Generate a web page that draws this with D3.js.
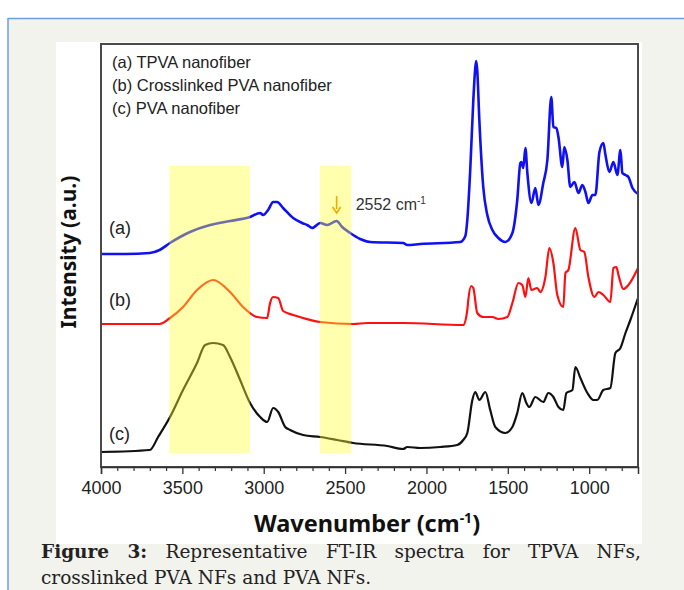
<!DOCTYPE html>
<html>
<head>
<meta charset="utf-8">
<script src="https://cdn.jsdelivr.net/npm/d3@7"></script>
<style>
  body { margin: 0; background: #fff; }
</style>
</head>
<body>
<script>
// wavenumber (cm-1) / intensity (a.u., offset curves)
var tpvaWn  = [4000,3850,3700,3640,3576,3453,3330,3207,3084,3022,3004,2973,2942,2918,2881,2819,2764,2733,2702,2653,2610,2552,2518,2469,2407,2346,2143,2118,2038,1792,1761,1749,1731,1712,1700,1694,1688,1675,1651,1626,1595,1558,1515,1472,1442,1423,1417,1405,1392,1380,1355,1331,1312,1282,1257,1233,1220,1202,1189,1165,1153,1134,1116,1091,1066,1042,1023,1005,980,962,937,913,900,876,851,827,808,796,777,759,734,700];
var tpvaInt = [21.3,21.3,21.4,21.7,22.4,23.5,24.2,24.6,25.0,25.4,25.2,25.7,26.5,26.5,25.9,24.9,24.4,24.2,23.9,24.4,24.2,24.6,24.0,23.4,22.8,22.5,22.4,22.2,22.3,22.5,23.1,24.7,29.7,36.7,39.9,40.6,39.7,34.7,28.0,25.2,23.7,22.9,22.5,23.4,26.7,30.4,30.5,29.9,31.9,29.4,26.4,27.9,26.2,28.4,30.7,37.0,34.0,33.9,33.0,30.0,32.0,30.7,28.0,28.5,27.4,28.2,27.5,26.4,27.2,27.2,31.5,32.4,31.2,29.5,30.5,29.2,31.7,29.4,29.2,29.0,27.9,27.3];

var xpvaWn  = [4000,3640,3576,3496,3410,3311,3207,3127,3041,2979,2961,2942,2911,2881,2819,2758,2653,2450,2364,2143,1774,1749,1743,1725,1712,1688,1651,1595,1558,1503,1472,1435,1411,1392,1374,1355,1319,1300,1269,1245,1220,1196,1159,1146,1128,1085,1054,1030,1005,968,943,913,870,851,833,820,790,759,700];
var xpvaInt = [14.3,14.3,14.9,16.0,17.7,18.7,17.5,16.0,15.0,14.9,16.4,17.0,16.9,15.6,15.2,14.9,14.5,14.3,14.4,14.4,14.2,15.7,16.7,18.1,17.9,15.4,15.0,15.0,14.8,15.0,16.4,18.4,18.2,17.0,18.9,17.7,17.9,17.5,19.0,21.9,20.4,17.2,16.0,19.4,19.7,23.9,21.7,21.5,19.0,17.0,17.5,17.2,16.5,19.9,20.0,19.2,17.8,18.2,19.9];

var pvaWn  = [4000,3700,3649,3576,3496,3410,3360,3311,3250,3207,3145,3084,3022,2979,2942,2911,2868,2838,2758,2653,2549,2450,2241,2143,2118,2038,1915,1811,1774,1749,1718,1700,1675,1638,1608,1577,1515,1472,1442,1411,1386,1368,1331,1282,1251,1220,1189,1159,1140,1103,1085,1054,1011,974,950,913,870,839,808,777,747,700];
var pvaInt = [1.5,1.7,3.0,5.0,7.7,10.4,12.2,12.4,12.2,11.0,8.7,6.4,5.0,4.5,5.9,5.5,4.0,3.7,3.2,3.0,2.7,2.4,2.1,1.8,2.0,1.9,2.0,2.2,2.7,3.4,6.7,7.5,6.7,7.5,5.7,4.0,3.4,4.0,5.4,7.4,6.4,6.0,7.0,6.5,7.4,7.0,6.0,5.7,7.4,7.7,10.0,8.9,7.4,6.7,6.7,7.7,7.9,11.4,11.9,13.4,14.7,16.9];

var xTicks = [4000, 3500, 3000, 2500, 2000, 1500, 1000];
var legendLines = ["(a) TPVA nanofiber", "(b) Crosslinked PVA nanofiber", "(c) PVA nanofiber"];
var curveLabels = ["(a)", "(b)", "(c)"];
var labelInt = [23.3, 16.1, 2.7];
var bands = [[3580, 3085], [2655, 2462]];
var peakWn = 2552;

var svg = d3.select("body").append("svg")
    .attr("width", 684).attr("height", 590);

// page background and blue border
svg.append("rect").attr("x", 8).attr("y", 18).attr("width", 676).attr("height", 572).attr("fill", "#f3f3ee");
svg.append("line").attr("x1", 8).attr("x2", 684).attr("y1", 18.5).attr("y2", 18.5).attr("stroke", "#6a9fe6").attr("stroke-width", 1.5);
svg.append("line").attr("x1", 8).attr("x2", 8).attr("y1", 18).attr("y2", 590).attr("stroke", "#6a9fe6").attr("stroke-width", 1.5);
svg.append("rect").attr("x", 56).attr("y", 42).attr("width", 586).attr("height", 502).attr("fill", "#fff");

var x = d3.scaleLinear().domain([4000, 700]).range([101, 638]);
var y = d3.scaleLinear().domain([0, 42.3]).range([467, 44]);

var line = d3.line()
    .x(function(d) { return x(d[0]); })
    .y(function(d) { return y(d[1]); })
    .curve(d3.curveMonotoneX);

var series = [
    {wn: tpvaWn, v: tpvaInt, color: "#1010f5", w: 2.6},
    {wn: xpvaWn, v: xpvaInt, color: "#ff1010", w: 2.2},
    {wn: pvaWn,  v: pvaInt,  color: "#111",    w: 2.2}
];
series.forEach(function(s) {
    svg.append("path")
        .datum(d3.zip(s.wn, s.v))
        .attr("fill", "none")
        .attr("stroke", s.color)
        .attr("stroke-width", s.w)
        .attr("stroke-linejoin", "round")
        .attr("d", line);
});

// highlighted regions (drawn over the lines, translucent)
bands.forEach(function(b) {
    svg.append("rect")
        .attr("x", x(b[0])).attr("width", x(b[1]) - x(b[0]))
        .attr("y", y(30.1)).attr("height", y(1.4) - y(30.1))
        .attr("fill", "rgb(255,255,50)").attr("opacity", 0.4);
});

// arrow at 2552
var ax = x(peakWn);
svg.append("line").attr("x1", ax).attr("x2", ax).attr("y1", y(27.1)).attr("y2", y(25.8))
    .attr("stroke", "#f4a800").attr("stroke-width", 1.6);
svg.append("path")
    .attr("d", "M" + (ax - 4) + "," + y(26.0) + "L" + ax + "," + y(25.4) + "L" + (ax + 4) + "," + y(26.0))
    .attr("fill", "none").attr("stroke", "#f4a800").attr("stroke-width", 1.6);
var ann = svg.append("text").attr("x", ax + 19).attr("y", y(25.7))
    .attr("font-family", "Liberation Sans, Arial, sans-serif").attr("font-size", 16).attr("fill", "#333");
ann.append("tspan").text(peakWn + " cm");
ann.append("tspan").attr("font-size", 10).attr("dy", -6).text("-1");

// frame
svg.append("rect").attr("x", 101).attr("y", 44).attr("width", 537).attr("height", 423)
    .attr("fill", "none").attr("stroke", "#4a4a4a").attr("stroke-width", 2);

// axis
var xAxis = svg.append("g").attr("transform", "translate(0,467)")
    .call(d3.axisBottom(x).tickValues(xTicks).tickSize(7).tickFormat(d3.format("d")));
xAxis.select(".domain").attr("stroke", "#333").attr("stroke-width", 1.5);
xAxis.selectAll(".tick line").attr("stroke", "#333").attr("stroke-width", 1.3);
xAxis.selectAll("text").attr("font-family", "Liberation Sans, Arial, sans-serif")
    .attr("font-size", 18).attr("fill", "#222").attr("dy", "0.95em");
var minor = d3.range(3900, 700, -100).filter(function(v) { return v % 500 !== 0; });
svg.append("g").attr("transform", "translate(0,467)")
    .call(d3.axisBottom(x).tickValues(minor).tickSize(4).tickFormat(""))
    .call(function(g) { g.select(".domain").remove(); })
    .selectAll("line").attr("stroke", "#333").attr("stroke-width", 1.2);

// axis titles
var xt = svg.append("text").attr("x", 367).attr("y", 532).attr("text-anchor", "middle")
    .attr("font-family", "Noto Sans, sans-serif").attr("font-weight", "bold").attr("font-size", 23.5).attr("fill", "#111");
xt.append("tspan").text("Wavenumber (cm");
xt.append("tspan").attr("font-size", 14).attr("dy", -9).text("-1");
xt.append("tspan").attr("dy", 9).text(")");

svg.append("text").attr("transform", "translate(76,252) rotate(-90)").attr("text-anchor", "middle")
    .attr("font-family", "Noto Sans, sans-serif").attr("font-weight", "bold").attr("font-size", 21).attr("fill", "#111")
    .text("Intensity (a.u.)");

// legend text
svg.selectAll(".leg").data(legendLines).enter().append("text")
    .attr("x", 112).attr("y", function(d, i) { return 68 + i * 23; })
    .attr("font-family", "Liberation Sans, Arial, sans-serif").attr("font-size", 16.5).attr("fill", "#222")
    .text(function(d) { return d; });

// curve labels
svg.selectAll(".clab").data(curveLabels).enter().append("text")
    .attr("x", 109).attr("y", function(d, i) { return y(labelInt[i]); })
    .attr("font-family", "Liberation Sans, Arial, sans-serif").attr("font-size", 18).attr("fill", "#222")
    .text(function(d) { return d; });

// caption, first line justified
var cap1 = [["Figure", true], ["3:", true], ["Representative", false], ["FT-IR", false], ["spectra", false], ["for", false], ["TPVA", false], ["NFs,", false]];
var capFont = "DejaVu Serif, serif";
var words = svg.selectAll(".cw").data(cap1).enter().append("text")
    .attr("y", 558).attr("font-family", capFont).attr("font-size", 18.5).attr("fill", "#222")
    .attr("font-weight", function(d) { return d[1] ? "bold" : "normal"; })
    .text(function(d) { return d[0]; });
var widths = [];
words.each(function() { widths.push(this.getComputedTextLength()); });
var gap = (641 - 41 - d3.sum(widths)) / (cap1.length - 1);
var cx = 41;
words.each(function(d, i) { d3.select(this).attr("x", cx); cx += widths[i] + gap; });
svg.append("text").attr("x", 41).attr("y", 584).attr("font-family", capFont).attr("font-size", 18.5).attr("fill", "#222")
    .text("crosslinked PVA NFs and PVA NFs.");
</script>
</body>
</html>
